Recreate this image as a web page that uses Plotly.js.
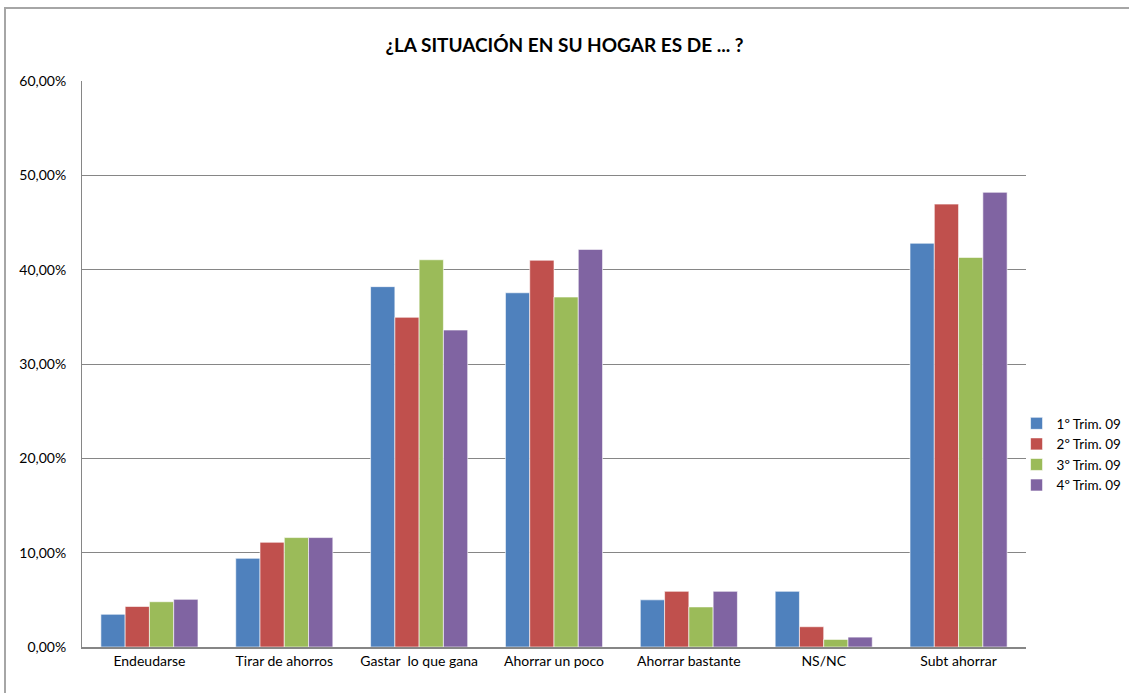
<!DOCTYPE html>
<html>
<head>
<meta charset="utf-8">
<script src="https://cdn.plot.ly/plotly-3.0.1.min.js"></script>
<style>
  html, body { margin: 0; padding: 0; background: #fff; }
  #frame { position: absolute; left: 4px; top: 7px; width: 1200px; height: 800px;
           border-left: 2px solid #a6a6a6; border-top: 2px solid #a6a6a6; box-sizing: border-box; }
  #chart { position: absolute; left: 0; top: 0; width: 1129px; height: 693px; }
</style>
</head>
<body>
<div id="frame"></div>
<div id="chart"></div>
<script>
const categories = ["Endeudarse", "Tirar de ahorros", "Gastar  lo que gana", "Ahorrar un poco", "Ahorrar bastante", "NS/NC", "Subt ahorrar"];
const seriesNames = ["1º Trim. 09", "2º Trim. 09", "3º Trim. 09", "4º Trim. 09"];
const trim1 = [3.47, 9.40, 38.20, 37.55, 5.00, 5.90, 42.80];
const trim2 = [4.30, 11.10, 34.95, 41.00, 5.90, 2.15, 46.95];
const trim3 = [4.80, 11.60, 41.05, 37.10, 4.25, 0.80, 41.30];
const trim4 = [5.05, 11.60, 33.60, 42.15, 5.90, 1.05, 48.20];
const yTicks = [0, 10, 20, 30, 40, 50, 60];
const yTickLabels = ["0,00%", "10,00%", "20,00%", "30,00%", "40,00%", "50,00%", "60,00%"];
const colors = ["#4F81BD", "#C0504D", "#9BBB59", "#8064A2"];

const seriesValues = [trim1, trim2, trim3, trim4];
const traces = seriesValues.map((vals, i) => ({
  type: "bar",
  name: seriesNames[i],
  x: categories,
  y: vals,
  marker: { color: colors[i], line: { color: "rgba(255,255,255,0.6)", width: 1 } },
  hoverinfo: "x+y+name"
}));

const fontFam = "Lato, 'Open Sans', 'DejaVu Sans', sans-serif";
const layout = {
  width: 1129, height: 693,
  paper_bgcolor: "rgba(0,0,0,0)",
  plot_bgcolor: "rgba(0,0,0,0)",
  margin: { l: 82, r: 103, t: 81, b: 46, autoexpand: false },
  separators: ",.",
  barmode: "group",
  bargap: 0.28,
  bargroupgap: 0,
  title: {
    text: "<b>¿LA SITUACIÓN EN SU HOGAR ES DE ... ?</b>",
    font: { family: fontFam, size: 19, color: "#000" },
    x: 0.5, xanchor: "center", y: 0.934, yanchor: "middle"
  },
  font: { family: fontFam, size: 14, color: "#000" },
  xaxis: {
    showline: true, linecolor: "#868686", linewidth: 2,
    showgrid: false, ticks: "", tickfont: { size: 14 },
    fixedrange: true
  },
  yaxis: {
    range: [0, 60], tickmode: "array", tickvals: yTicks, ticktext: yTickLabels,
    showline: true, linecolor: "#868686", linewidth: 1,
    showgrid: true, gridcolor: "#868686", gridwidth: 1,
    zeroline: false, ticks: "", ticklen: 0, ticklabelstandoff: 12, tickfont: { size: 14 },
    fixedrange: true
  },
  legend: {
    x: 0.99, xanchor: "left", y: 0.34, yanchor: "middle",
    font: { size: 13.5 }, tracegroupgap: 0, itemwidth: 30
  },
  showlegend: true
};

Plotly.newPlot("chart", traces, layout, { displayModeBar: false });
</script>
</body>
</html>
